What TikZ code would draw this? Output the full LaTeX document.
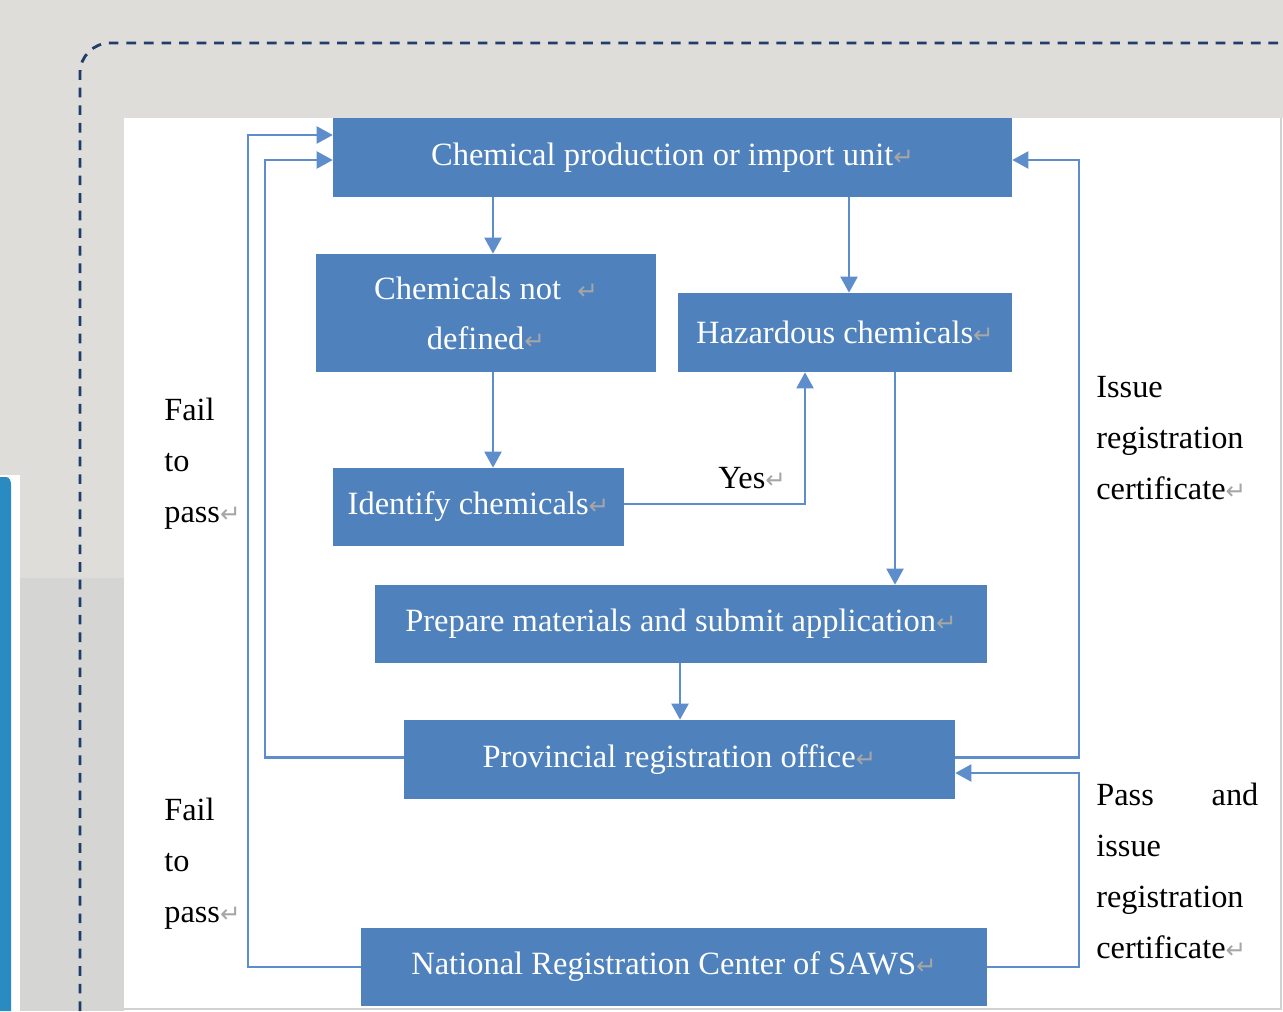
\documentclass[tikz,border=0pt]{standalone}
\usepackage{fontspec}
\setmainfont{Liberation Serif}
\newfontfamily\dvfont{DejaVu Sans}
\usetikzlibrary{arrows.meta,calc}
\definecolor{boxblue}{HTML}{4F81BD}
\definecolor{lineblue}{HTML}{5E8DCB}
\definecolor{dashnavy}{HTML}{1F3D6B}
\definecolor{bggray}{HTML}{DEDDDA}
\definecolor{bgdark}{HTML}{D5D5D4}
\definecolor{barblue}{HTML}{2A8BC2}
\definecolor{retgray}{HTML}{A6A6A6}
\newcommand{\retmark}{{\color{retgray}\dvfont\fontsize{14}{14}\selectfont ↵}}
\tikzset{
  flowbox/.style={draw=none, fill=boxblue, text=white, inner sep=0pt, align=center,
    font=\fontsize{18.5}{28.4}\selectfont},
  arr/.style={draw=lineblue, line width=1.2pt, -{Triangle[length=0.32cm,width=0.34cm]}},
  conn/.style={draw=lineblue, line width=1.2pt},
  sidelabel/.style={anchor=north west, inner sep=0pt, align=left, text=black,
    font=\fontsize{18.4}{28.9}\selectfont}
}
\begin{document}
\begin{tikzpicture}[x=0.02cm, y=-0.02cm]
\useasboundingbox (0,0) rectangle (1283,1011);
% background
\fill[bggray] (0,0) rectangle (1283,1011);
\fill[bgdark] (20,578) rectangle (124,1011);
\fill[white] (0,475) rectangle (20,1011);
\fill[barblue] (0,1011) -- (0,477) -- (6,477) to[out=0,in=90] (11,485) -- (11,1011) -- cycle;
% white panel
\fill[white] (124,118) rectangle (1283,1011);
\draw[black!18, line width=0.6pt] (1281,118) -- (1281,1009) -- (124,1009);
% dashed frame
\draw[dashnavy, line width=1.6pt, dash pattern=on 5.5pt off 4.5pt, rounded corners=0.6cm]
  (80,1011) -- (80,43) -- (1283,43);

% boxes
\node[flowbox, minimum width=13.58cm, minimum height=1.58cm] (b1) at (672.5,157.5)
  {Chemical production or import unit\retmark};
\node[flowbox, minimum width=6.8cm, minimum height=2.36cm] (b2) at (486,313)
  {Chemicals not \ \retmark\\defined\retmark};
\node[flowbox, minimum width=6.68cm, minimum height=1.58cm] (b3) at (845,332.5)
  {Hazardous chemicals\retmark};
\node[flowbox, minimum width=5.82cm, minimum height=1.56cm] (b4) at (478.5,507)
  {Identify chemicals\retmark};
\node[flowbox, minimum width=12.24cm, minimum height=1.56cm] (b5) at (681,624)
  {Prepare materials and submit application\retmark};
\node[flowbox, minimum width=11.02cm, minimum height=1.58cm] (b6) at (679.5,759.5)
  {Provincial registration office\retmark};
\node[flowbox, minimum width=12.52cm, minimum height=1.56cm] (b7) at (674,967)
  {National Registration Center of SAWS\retmark};

% helper coordinates
\coordinate (xa) at (493,0);
\coordinate (xb) at (849,0);
\coordinate (xy) at (805,0);
\coordinate (xc) at (895,0);
\coordinate (xd) at (680,0);
\coordinate (L1) at (265,160);
\coordinate (L2) at (248,135);
\coordinate (R1) at (1079,160);
\coordinate (R2) at (1079,773);

% connectors
\draw[arr] (b1.south -| xa) -- (b2.north -| xa);
\draw[arr] (b1.south -| xb) -- (b3.north -| xb);
\draw[arr] (b2.south -| xa) -- (b4.north -| xa);
\draw[arr] (b4.east) ++(0,-3) -| (b3.south -| xy);
\draw[arr] (b3.south -| xc) -- (b5.north -| xc);
\draw[arr] (b5.south -| xd) -- (b6.north -| xd);
\draw[arr] (b6.west) ++(0,-2) -| (L1) -- (L1 -| b1.west);
\draw[arr] (b7.west) -| (L2) -- (L2 -| b1.west);
\draw[arr] (b6.east) ++(0,-2) -| (R1) -- (R1 -| b1.east);
\draw[arr] (b7.east) -| (R2) -- (R2 -| b6.east);

% labels
\node[anchor=base west, inner sep=0pt, font=\fontsize{18.4}{28.9}\selectfont] (yes) at (718,488) {Yes\retmark};
\node[sidelabel] (fail1) at (164,398) {Fail\\to\\pass\retmark};
\node[sidelabel] (fail2) at (164,798) {Fail\\to\\pass\retmark};
\node[sidelabel] (issue1) at (1096,376) {Issue\\registration\\certificate\retmark};
\node[sidelabel] (issue2) at (1096,783) {\makebox[3.24cm][s]{Pass\hfill and}\\issue\\registration\\certificate\retmark};
\end{tikzpicture}
\end{document}
